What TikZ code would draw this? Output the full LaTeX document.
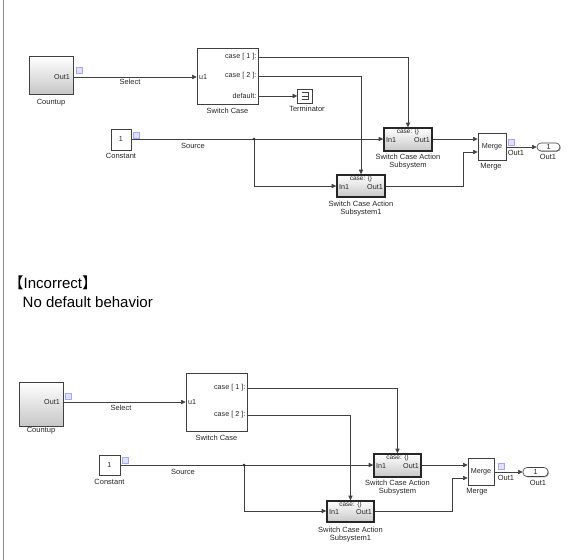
\documentclass[tikz,border=0pt]{standalone}
\usepackage{fontspec}
\setmainfont{Liberation Sans}
\newfontfamily\cjk{Noto Sans CJK JP}
\usetikzlibrary{arrows.meta,shadows}
\begin{document}
\begin{tikzpicture}[x=1pt,y=-1pt,
 blk/.style={draw=black!75, line width=0.6pt, fill=white, inner sep=0pt,
   drop shadow={shadow xshift=0.9pt,shadow yshift=-0.9pt,fill=black!35,opacity=1}},
 grd/.style={top color=white, bottom color=black!22},
 sub/.style={line width=1.4pt, draw=black!85},
 wire/.style={draw=black!75, line width=0.6pt, -{Triangle[length=4.6pt,width=4.2pt]}},
 plain/.style={draw=black!75, line width=0.6pt},
 lbl/.style={font=\fontsize{7.5}{8.6}\selectfont, inner sep=0pt, text=black!85, align=center},
 ptxt/.style={font=\fontsize{7.2}{8}\selectfont, inner sep=0pt, text=black!85},
 stxt/.style={font=\fontsize{6.5}{7}\selectfont, inner sep=0pt, text=black!85},
 icon/.style={draw=blue!35, fill=blue!12, line width=0.4pt},
 jdot/.style={circle, fill=black!85, inner sep=0pt, minimum size=2.8pt},
 big/.style={font=\fontsize{15}{18}\selectfont, inner sep=0pt, anchor=west}
]
\useasboundingbox (0,0) rectangle (587,560);
\draw[black!45, line width=0.9pt] (3,0) -- (3,560);

% ================= TOP =================
\node[blk,grd, minimum width=44, minimum height=38] (cntA) at (51,75) {};
\node[ptxt, anchor=east] (cntAo) at (70,77) {Out1};
\draw[icon] (76,67) rectangle (82,73);
\node[lbl] (cntAl) at (51,103) {Countup};

\node[blk, minimum width=61, minimum height=56] (swA) at (227.5,76) {};
\node[ptxt, anchor=west] (swAu) at (199,77) {u1};
\node[ptxt, anchor=east] (swA1) at (256.5,57) {case [ 1 ]:};
\node[ptxt, anchor=east] (swA2) at (256.5,76) {case [ 2 ]:};
\node[ptxt, anchor=east] (swAd) at (256.5,96) {default:};
\node[lbl] (swAl) at (227.5,111) {Switch Case};

\node[blk, minimum width=15, minimum height=14] (term) at (305,96) {};
\draw[black!75, line width=0.6pt] ([shift={(-3.5,-3.5)}]term.center) -- ([shift={(3,-3.5)}]term.center) -- ([shift={(3,3.5)}]term.center) -- ([shift={(-3.5,3.5)}]term.center);
\draw[black!75, line width=0.6pt] ([shift={(-3.5,0)}]term.center) -- ([shift={(3,0)}]term.center);
\node[lbl] (terml) at (307,109) {Terminator};

\node[blk, minimum width=20, minimum height=21] (cstA) at (121,139.5) {};
\node[ptxt] at (cstA.center) {1};
\draw[icon] (133,132) rectangle (139,138);
\node[lbl] (cstAl) at (121,156) {Constant};

\node[blk,grd,sub, minimum width=48, minimum height=23] (asA1) at (408,139.5) {};
\node[stxt] at (408,132) {case: \{\}};
\node[ptxt, anchor=west] at (386,140.5) {In1};
\node[ptxt, anchor=east] at (430,140.5) {Out1};
\node[lbl] (asA1l) at (408,161.5) {Switch Case Action\\Subsystem};

\node[blk,grd,sub, minimum width=48, minimum height=22] (asA2) at (361,186) {};
\node[stxt] at (361,179) {case: \{\}};
\node[ptxt, anchor=west] at (339,187) {In1};
\node[ptxt, anchor=east] at (383,187) {Out1};
\node[lbl] (asA2l) at (361,208.5) {Switch Case Action\\Subsystem1};

\node[blk, minimum width=28, minimum height=27] (mgA) at (492,146.5) {};
\node[ptxt] at (492,147) {Merge};
\node[lbl] (mgAl) at (491,167) {Merge};

\node[blk, rounded corners=4pt, minimum width=23, minimum height=8] (outA) at (548.5,147) {};
\node[ptxt] at (outA.center) {1};
\node[lbl] (outAl) at (548,157) {Out1};
\draw[icon] (508,139) rectangle (514,145);
\node[lbl] at (516,153) {Out1};

% ports (top)
\coordinate (cntAp) at (cntA.east |- 0,77);
\coordinate (swAin) at (swA.west |- 0,77);
\coordinate (swAc1) at (swA.east |- 0,57);
\coordinate (swAc2) at (swA.east |- 0,76);
\coordinate (swAcd) at (swA.east |- 0,96);
\coordinate (cstAp) at (cstA.east |- 0,139);
\coordinate (asA1in) at (asA1.west |- 0,139);
\coordinate (asA1out) at (asA1.east |- 0,139);
\coordinate (asA2in) at (asA2.west |- 0,186);
\coordinate (asA2out) at (asA2.east |- 0,186);
\coordinate (mgAi1) at (mgA.west |- 0,139);
\coordinate (mgAi2) at (mgA.west |- 0,152);
\coordinate (mgAo) at (mgA.east |- 0,147);
\coordinate (jA) at (254,139);

\draw[wire] (cntAp) -- (swAin);
\node[lbl] at (130,82) {Select};
\draw[wire] (swAc1) -| (asA1.north);
\draw[wire] (swAc2) -| (asA2.north);
\draw[wire] (swAcd) -- (term.west);
\draw[wire] (cstAp) -- (asA1in);
\node[lbl] at (193,146) {Source};
\draw[wire] (jA) |- (asA2in);
\draw[wire] (asA1out) -- (mgAi1);
\draw[wire] (asA2out) -| (463,152) -- (mgAi2);
\draw[wire] (mgAo) -- (outA.west);
\node[jdot] (jAd) at (jA) {};

% ================= TEXT =================
\node[big] (t1) at (8.5,283) {{\cjk 【}Incorrect{\cjk 】}};
\node[big] (t2) at (22.5,302) {No default behavior};

% ================= BOTTOM =================
\node[blk,grd, minimum width=44, minimum height=44] (cntB) at (41,404) {};
\node[ptxt, anchor=east] at (60,402) {Out1};
\draw[icon] (65,393) rectangle (71,399);
\node[lbl] (cntBl) at (41,431) {Countup};

\node[blk, minimum width=61, minimum height=58] (swB) at (216.5,402) {};
\node[ptxt, anchor=west] at (188,402) {u1};
\node[ptxt, anchor=east] at (245.5,388) {case [ 1 ]:};
\node[ptxt, anchor=east] at (245.5,415) {case [ 2 ]:};
\node[lbl] (swBl) at (216.5,437.5) {Switch Case};

\node[blk, minimum width=21, minimum height=20] (cstB) at (109.5,465) {};
\node[ptxt] at (cstB.center) {1};
\draw[icon] (122,457) rectangle (128,463);
\node[lbl] (cstBl) at (109.5,482) {Constant};

\node[blk,grd,sub, minimum width=47, minimum height=23] (asB1) at (397.5,465.5) {};
\node[stxt] at (397.5,458) {case: \{\}};
\node[ptxt, anchor=west] at (376,466.5) {In1};
\node[ptxt, anchor=east] at (419,466.5) {Out1};
\node[lbl] (asB1l) at (397.5,487.5) {Switch Case Action\\Subsystem};

\node[blk,grd,sub, minimum width=47, minimum height=21] (asB2) at (350.5,511.5) {};
\node[stxt] at (350.5,505) {case: \{\}};
\node[ptxt, anchor=west] at (329,512.5) {In1};
\node[ptxt, anchor=east] at (372,512.5) {Out1};
\node[lbl] (asB2l) at (350.5,534.5) {Switch Case Action\\Subsystem1};

\node[blk, minimum width=26, minimum height=27] (mgB) at (481,471.5) {};
\node[ptxt] at (481,472) {Merge};
\node[lbl] (mgBl) at (477,492) {Merge};

\node[blk, rounded corners=4pt, minimum width=25, minimum height=9] (outB) at (535.5,472) {};
\node[ptxt] at (outB.center) {1};
\node[lbl] (outBl) at (538,483) {Out1};
\draw[icon] (498,463) rectangle (504,469);
\node[lbl] at (506,478) {Out1};

\coordinate (cntBp) at (cntB.east |- 0,402);
\coordinate (swBin) at (swB.west |- 0,402);
\coordinate (swBc1) at (swB.east |- 0,388);
\coordinate (swBc2) at (swB.east |- 0,415);
\coordinate (cstBp) at (cstB.east |- 0,465);
\coordinate (asB1in) at (asB1.west |- 0,465);
\coordinate (asB1out) at (asB1.east |- 0,465);
\coordinate (asB2in) at (asB2.west |- 0,511);
\coordinate (asB2out) at (asB2.east |- 0,511);
\coordinate (mgBi1) at (mgB.west |- 0,465);
\coordinate (mgBi2) at (mgB.west |- 0,478);
\coordinate (mgBo) at (mgB.east |- 0,472);
\coordinate (jB) at (244,465);

\draw[wire] (cntBp) -- (swBin);
\node[lbl] at (121,408) {Select};
\draw[wire] (swBc1) -| (asB1.north);
\draw[wire] (swBc2) -| (asB2.north);
\draw[wire] (cstBp) -- (asB1in);
\node[lbl] at (183,472) {Source};
\draw[wire] (jB) |- (asB2in);
\draw[wire] (asB1out) -- (mgBi1);
\draw[wire] (asB2out) -| (452,478) -- (mgBi2);
\draw[wire] (mgBo) -- (outB.west);
\node[jdot] (jBd) at (jB) {};
\end{tikzpicture}
\end{document}
